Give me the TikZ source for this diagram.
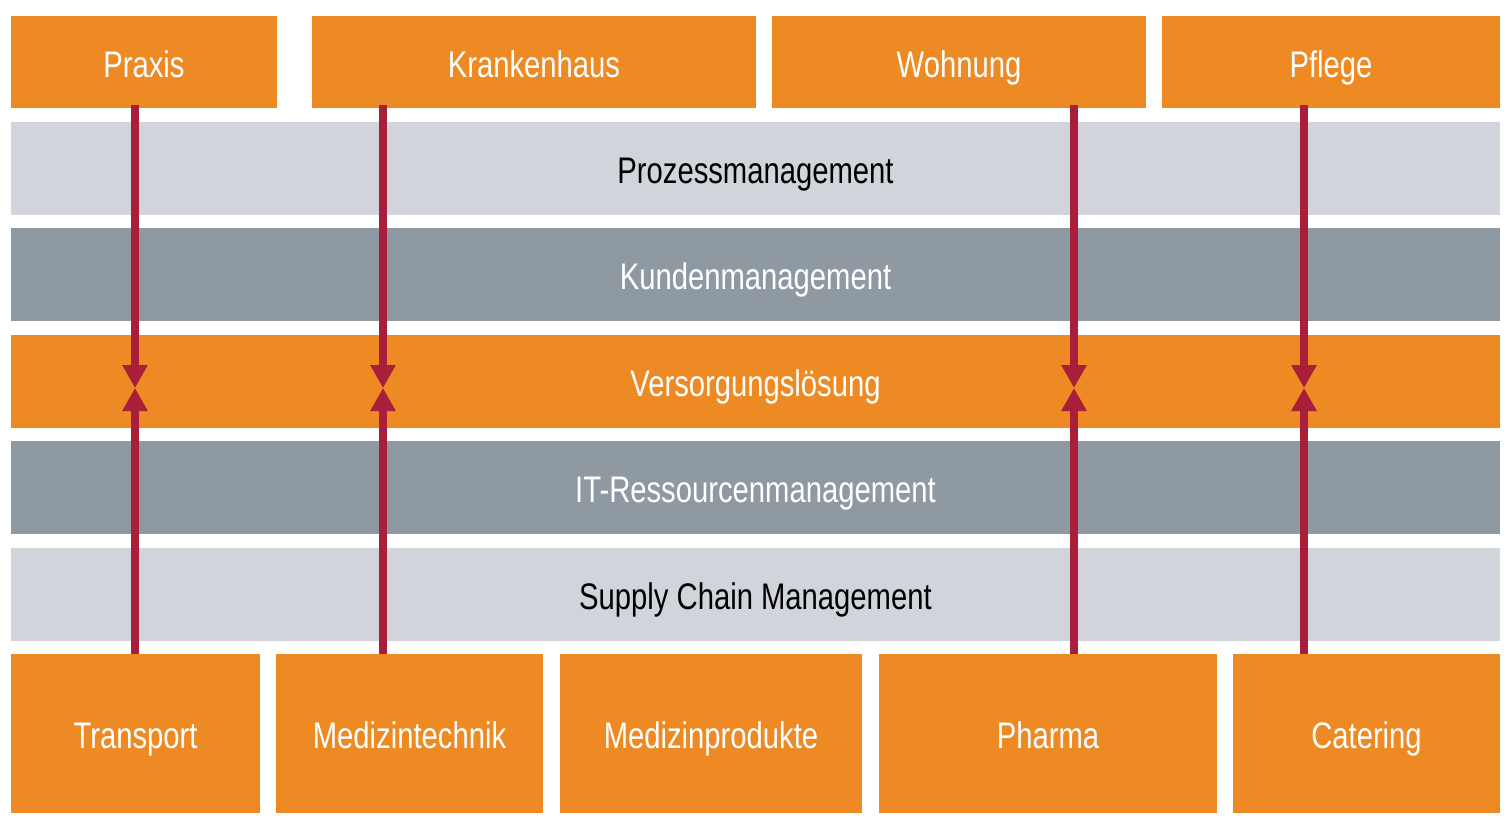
\documentclass[tikz,border=0pt]{standalone}
\usepackage{fontspec}
\setmainfont[FakeStretch=0.79]{Liberation Sans}
\usetikzlibrary{arrows.meta}
\definecolor{orng}{HTML}{EE8A24}
\definecolor{lgray}{HTML}{D1D4DB}
\definecolor{dgray}{HTML}{8F99A2}
\definecolor{arred}{HTML}{A91E3A}
\tikzset{
  lbl/.style={font=\fontsize{37}{42}\selectfont, text height=30pt, text depth=0pt, anchor=north west, inner sep=0pt, outer sep=0pt, draw=none},
  box/.style={lbl, fill=orng, text=white},
  band/.style={lbl, minimum width=1489pt, minimum height=93pt},
  lband/.style={band, fill=lgray, text=black},
  dband/.style={band, fill=dgray, text=white},
  oband/.style={band, fill=orng, text=white},
  arr/.style={draw=arred, line width=8pt, -{Triangle[width=24pt,length=23pt]}},
}
\begin{document}
\begin{tikzpicture}[x=1pt,y=-1pt]
\useasboundingbox[fill=white] (0,0) rectangle (1512,827);
% top boxes
\node[box, minimum width=266pt, minimum height=92pt] (praxis) at (11,16) {Praxis};
\node[box, minimum width=444pt, minimum height=92pt] (kh) at (312,16) {Krankenhaus};
\node[box, minimum width=374pt, minimum height=92pt] (wohn) at (772,16) {Wohnung};
\node[box, minimum width=338pt, minimum height=92pt] (pfl) at (1162,16) {Pflege};
% bands
\node[lband] (pm) at (11,122) {Prozessmanagement};
\node[dband] (km) at (11,228) {Kundenmanagement};
\node[oband] (vl) at (11,335) {Versorgungslösung};
\node[dband] (it) at (11,441) {IT-Ressourcenmanagement};
\node[lband] (scm) at (11,548) {Supply Chain Management};
% bottom boxes
\node[box, minimum width=249pt, minimum height=159pt] (tr) at (11,654) {Transport};
\node[box, minimum width=267pt, minimum height=159pt] (mt) at (276,654) {Medizintechnik};
\node[box, minimum width=302pt, minimum height=159pt] (mp) at (560,654) {Medizinprodukte};
\node[box, minimum width=338pt, minimum height=159pt] (ph) at (879,654) {Pharma};
\node[box, minimum width=267pt, minimum height=159pt] (ca) at (1233,654) {Catering};
% meeting points
\coordinate (m1) at (135,388);
\coordinate (m2) at (383,388);
\coordinate (m3) at (1074,388);
\coordinate (m4) at (1304,388);
% arrows
\draw[arr] ([yshift=3pt]m1 |- praxis.south) -- (m1);
\draw[arr] ([yshift=3pt]m2 |- kh.south) -- (m2);
\draw[arr] ([yshift=3pt]m3 |- wohn.south) -- (m3);
\draw[arr] ([yshift=3pt]m4 |- pfl.south) -- (m4);
\draw[arr] (m1 |- tr.north) -- (m1);
\draw[arr] (m2 |- mt.north) -- (m2);
\draw[arr] (m3 |- ph.north) -- (m3);
\draw[arr] (m4 |- ca.north) -- (m4);
\end{tikzpicture}
\end{document}
